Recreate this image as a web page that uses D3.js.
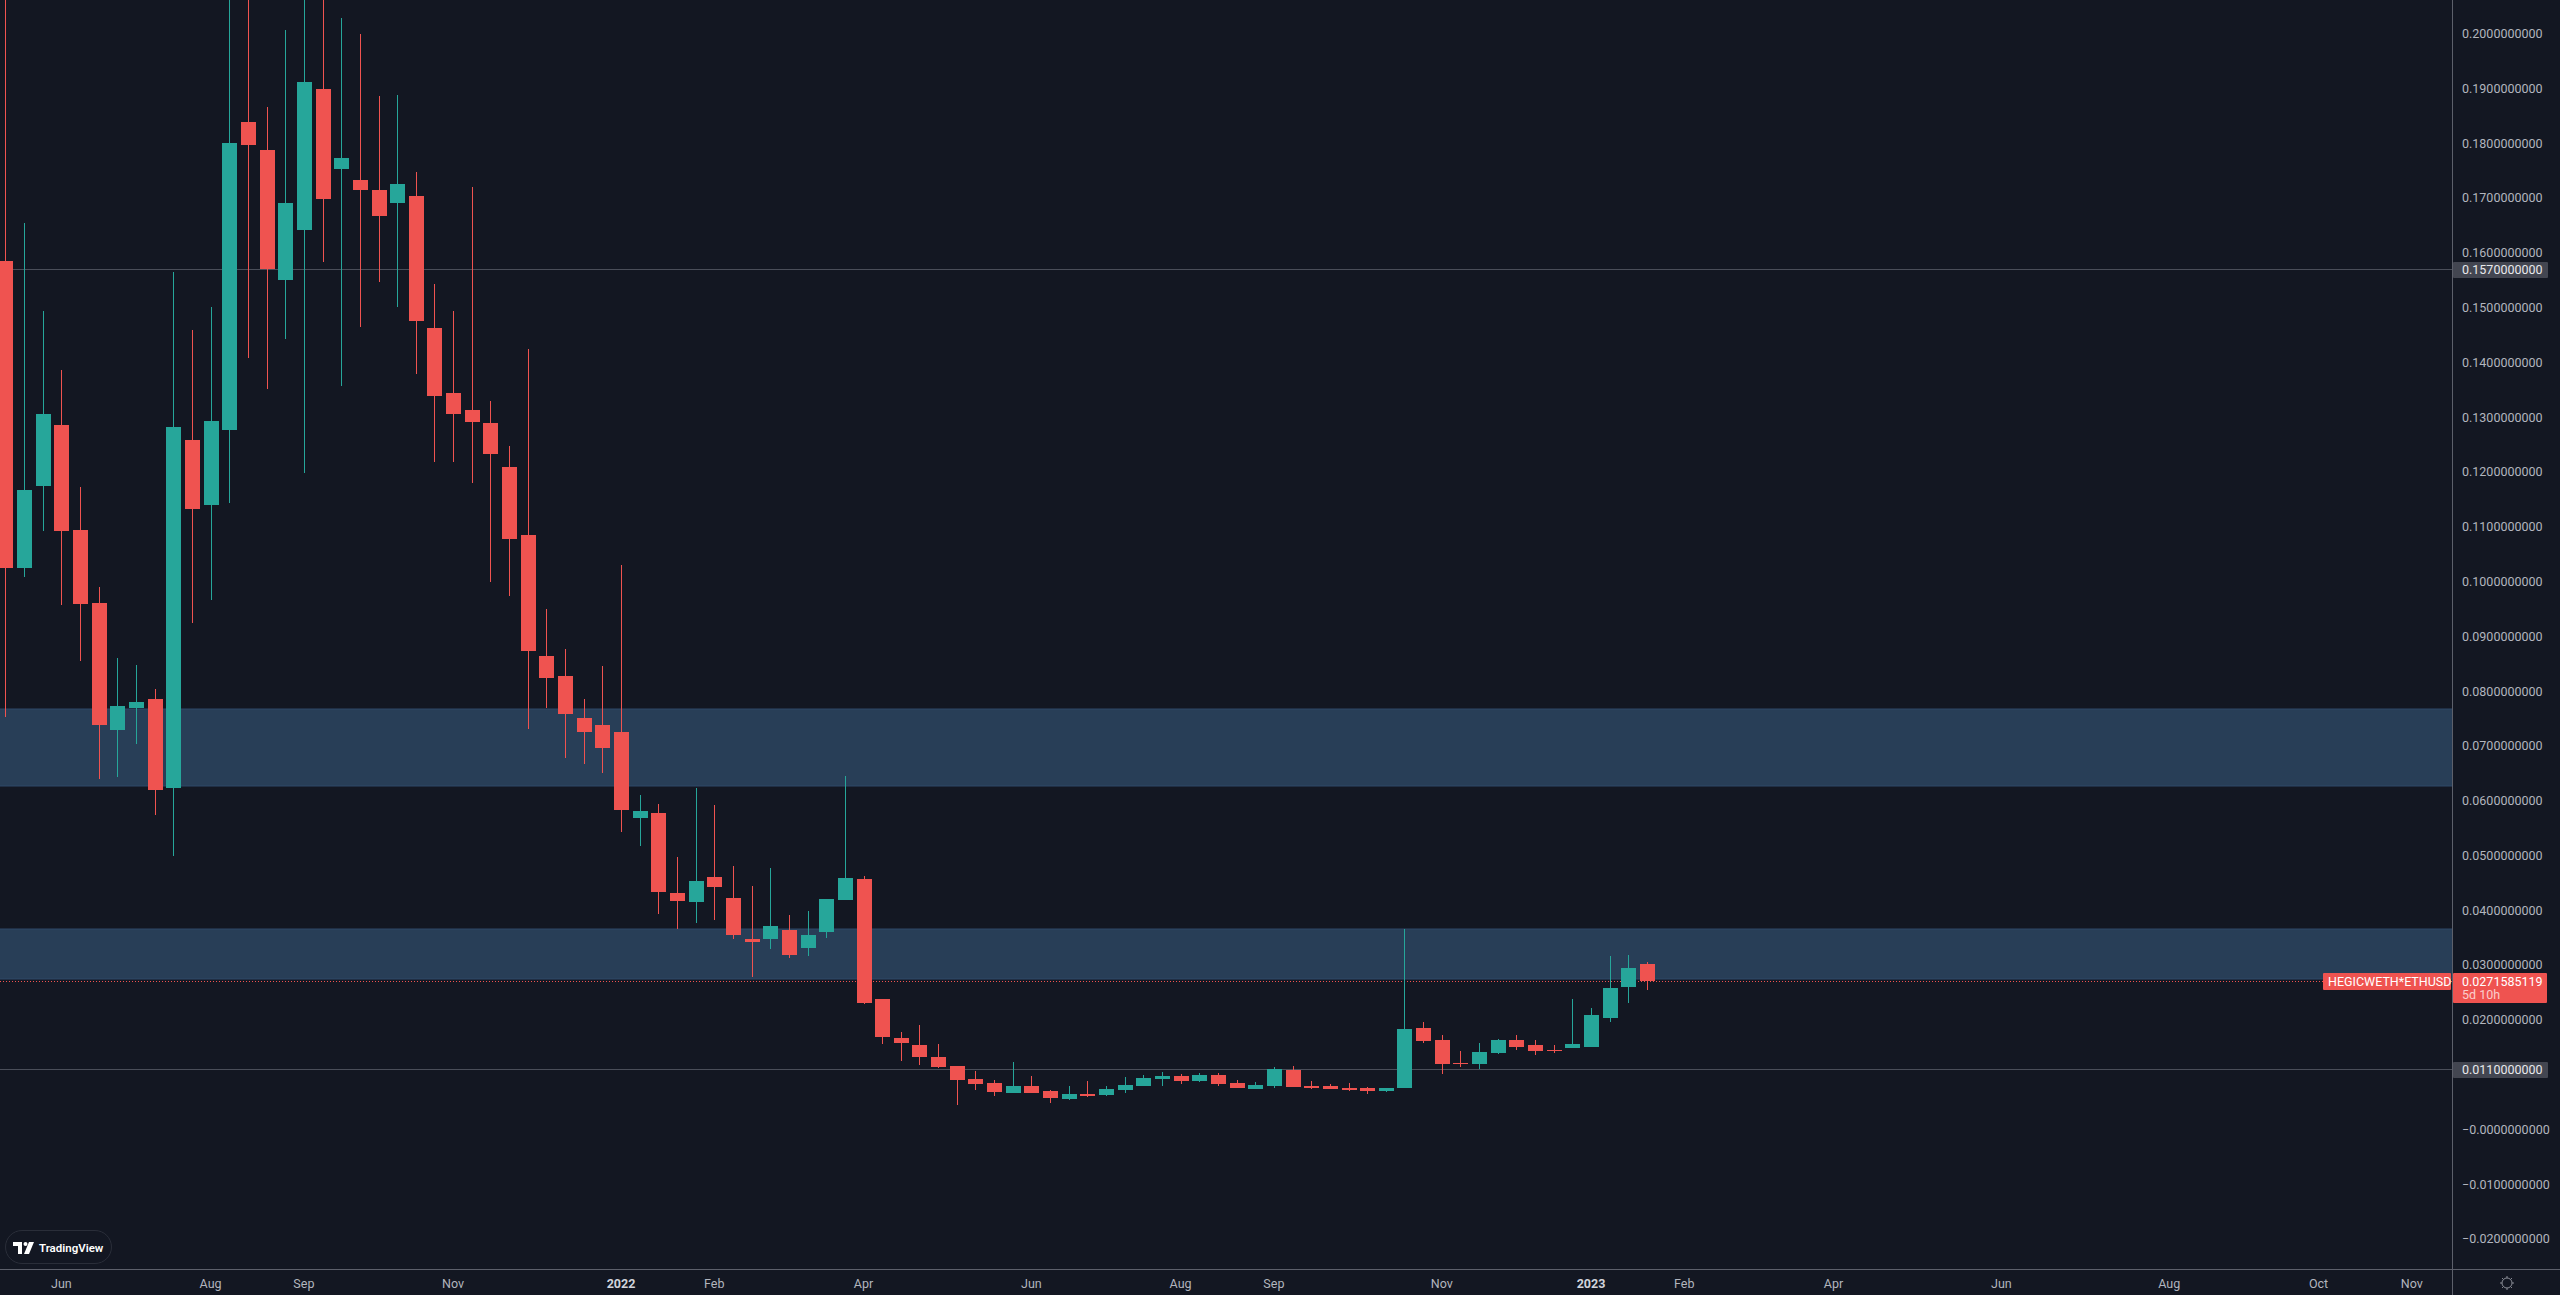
<!DOCTYPE html>
<html><head><meta charset="utf-8">
<script src="https://cdn.jsdelivr.net/npm/d3@7"></script>
<style>html,body{margin:0;padding:0;background:#131722;overflow:hidden}</style>
</head><body>
<svg id="c" width="2560" height="1295"></svg>
<script>
// ---------- DATA ----------
const dates = [
"2021-05-17","2021-05-24","2021-05-31","2021-06-07","2021-06-14","2021-06-21","2021-06-28","2021-07-05","2021-07-12","2021-07-19",
"2021-07-26","2021-08-02","2021-08-09","2021-08-16","2021-08-23","2021-08-30","2021-09-06","2021-09-13","2021-09-20","2021-09-27",
"2021-10-04","2021-10-11","2021-10-18","2021-10-25","2021-11-01","2021-11-08","2021-11-15","2021-11-22","2021-11-29","2021-12-06",
"2021-12-13","2021-12-20","2021-12-27","2022-01-03","2022-01-10","2022-01-17","2022-01-24","2022-01-31","2022-02-07","2022-02-14",
"2022-02-21","2022-02-28","2022-03-07","2022-03-14","2022-03-21","2022-03-28","2022-04-04","2022-04-11","2022-04-18","2022-04-25",
"2022-05-02","2022-05-09","2022-05-16","2022-05-23","2022-05-30","2022-06-06","2022-06-13","2022-06-20","2022-06-27","2022-07-04",
"2022-07-11","2022-07-18","2022-07-25","2022-08-01","2022-08-08","2022-08-15","2022-08-22","2022-08-29","2022-09-05","2022-09-12",
"2022-09-19","2022-09-26","2022-10-03","2022-10-10","2022-10-17","2022-10-24","2022-10-31","2022-11-07","2022-11-14","2022-11-21",
"2022-11-28","2022-12-05","2022-12-12","2022-12-19","2022-12-26","2023-01-02","2023-01-09","2023-01-16","2023-01-23"];

const open = [
0.15850,0.10247,0.11744,0.12857,0.10941,0.09609,0.07291,0.07692,0.07857,0.06232,
0.12583,0.11397,0.12766,0.18387,0.17876,0.15503,0.16416,0.18989,0.17529,0.17328,
0.17146,0.16909,0.17036,0.14627,0.13441,0.13131,0.12893,0.12090,0.10850,0.08641,
0.08276,0.07510,0.07382,0.07254,0.05685,0.05776,0.04316,0.04152,0.04608,0.04225,
0.03477,0.03477,0.03641,0.03312,0.03604,0.04188,0.04572,0.02382,0.01670,0.01542,
0.01323,0.01159,0.00922,0.00849,0.00666,0.00794,0.00703,0.00557,0.00648,0.00630,
0.00721,0.00794,0.00922,0.00976,0.00885,0.00995,0.00849,0.00739,0.00794,0.01086,
0.00794,0.00794,0.00757,0.00757,0.00703,0.00757,0.01852,0.01633,0.01214,0.01195,
0.01396,0.01633,0.01542,0.01451,0.01487,0.01506,0.02035,0.02601,0.03020];

const high = [
0.21500,0.16544,0.14938,0.13861,0.11726,0.09901,0.08605,0.08477,0.08039,0.15649,
0.14591,0.15011,0.21200,0.21000,0.18661,0.20066,0.21500,0.20900,0.20285,0.19993,
0.18861,0.18880,0.17474,0.15430,0.14938,0.17200,0.13295,0.12474,0.14244,0.09499,
0.08769,0.07857,0.08459,0.10302,0.06105,0.05940,0.04973,0.06232,0.05922,0.04809,
0.04444,0.04772,0.03915,0.03988,0.04207,0.06451,0.04626,0.02382,0.01779,0.01907,
0.01560,0.01159,0.01068,0.00903,0.01232,0.00976,0.00721,0.00794,0.00885,0.00794,
0.00958,0.00995,0.01049,0.01013,0.01031,0.01031,0.00903,0.00867,0.01141,0.01159,
0.00885,0.00830,0.00849,0.00776,0.00757,0.03659,0.01962,0.01725,0.01433,0.01579,
0.01652,0.01725,0.01633,0.01542,0.02382,0.02217,0.03166,0.03185,0.03057];

const low = [
0.07528,0.10083,0.10923,0.09572,0.08550,0.06397,0.06433,0.07035,0.05740,0.04991,
0.09244,0.09663,0.11434,0.14080,0.13514,0.14427,0.11981,0.15832,0.13569,0.14645,
0.15467,0.15011,0.13788,0.12182,0.12182,0.11798,0.09992,0.09736,0.07309,0.07692,
0.06780,0.06670,0.06506,0.05429,0.05174,0.03933,0.03659,0.03769,0.03823,0.03477,
0.02783,0.03294,0.03130,0.03166,0.03495,0.04188,0.02290,0.01560,0.01250,0.01177,
0.01122,0.00447,0.00721,0.00611,0.00666,0.00666,0.00484,0.00538,0.00593,0.00611,
0.00666,0.00794,0.00794,0.00830,0.00867,0.00794,0.00757,0.00739,0.00757,0.00776,
0.00739,0.00739,0.00703,0.00648,0.00684,0.00757,0.01579,0.01013,0.01141,0.01104,
0.01378,0.01451,0.01360,0.01396,0.01487,0.01506,0.01962,0.02309,0.02546];

const close = [
0.10247,0.11671,0.13058,0.10923,0.09590,0.07382,0.07729,0.07802,0.06196,0.12821,
0.11324,0.12930,0.18004,0.17967,0.15704,0.16909,0.19117,0.16982,0.17730,0.17146,
0.16671,0.17255,0.14755,0.13386,0.13058,0.12912,0.12328,0.10777,0.08733,0.08240,
0.07583,0.07254,0.06962,0.05831,0.05813,0.04334,0.04170,0.04535,0.04426,0.03550,
0.03422,0.03714,0.03185,0.03550,0.04207,0.04590,0.02309,0.01688,0.01579,0.01323,
0.01141,0.00903,0.00830,0.00684,0.00794,0.00666,0.00575,0.00648,0.00611,0.00739,
0.00812,0.00940,0.00976,0.00885,0.00995,0.00830,0.00757,0.00812,0.01104,0.00776,
0.00757,0.00739,0.00721,0.00703,0.00757,0.01834,0.01615,0.01195,0.01195,0.01414,
0.01633,0.01506,0.01433,0.01433,0.01560,0.02090,0.02582,0.02947,0.0271585119];

const priceTicks = [0.20,0.19,0.18,0.17,0.16,0.15,0.14,0.13,0.12,0.11,0.10,0.09,0.08,0.07,0.06,0.05,0.04,0.03,0.02,0.00,-0.01,-0.02];
const priceTickLabels = ["0.2000000000","0.1900000000","0.1800000000","0.1700000000","0.1600000000","0.1500000000","0.1400000000","0.1300000000","0.1200000000","0.1100000000","0.1000000000","0.0900000000","0.0800000000","0.0700000000","0.0600000000","0.0500000000","0.0400000000","0.0300000000","0.0200000000","\u22120.0000000000","\u22120.0100000000","\u22120.0200000000"];

const timeTickDates = ["2021-06-07","2021-08-02","2021-09-06","2021-11-01","2022-01-03","2022-02-07","2022-04-04","2022-06-06","2022-08-01","2022-09-05","2022-11-07","2023-01-02","2023-02-06","2023-04-03","2023-06-05","2023-08-07","2023-10-02","2023-11-06"];
const timeTickLabels = ["Jun","Aug","Sep","Nov","2022","Feb","Apr","Jun","Aug","Sep","Nov","2023","Feb","Apr","Jun","Aug","Oct","Nov"];

const zoneTops = [0.07674, 0.03659];
const zoneBottoms = [0.06263, 0.02755];
const levelLines = [0.157, 0.011];
const levelLabels = ["0.1570000000", "0.0110000000"];
const lastPrice = 0.0271585119;
const lastPriceLabel = "0.0271585119";
const symbolName = "HEGICWETH*ETHUSD";
const countdown = "5d 10h";

// ---------- LAYOUT ----------
const W = 2560, H = 1295, paneR = 2452, paneB = 1269;
const BG = "#131722", UP = "#26a69a", DOWN = "#ef5350", TXT = "#b2b5be";
const FONT = "Roboto, 'Noto Sans', sans-serif";
const parse = s => { const [a,b,c] = s.split("-").map(Number); return new Date(Date.UTC(a,b-1,c)); };

const x = d3.scaleUtc().domain([parse("2022-01-03"), parse("2023-01-02")]).range([621, 1591]);
const y = d3.scaleLinear().domain([-0.02546, 0.20613]).range([paneB, 0]);

const svg = d3.select("#c");
svg.append("rect").attr("width", W).attr("height", H).attr("fill", BG);

svg.append("defs").append("clipPath").attr("id", "pane")
  .append("rect").attr("x", 0).attr("y", 0).attr("width", paneR).attr("height", paneB);
const pane = svg.append("g").attr("clip-path", "url(#pane)");

// zones
const zoneData = zoneTops.map((t, i) => ({t, b: zoneBottoms[i]}));
pane.selectAll("rect.zone").data(zoneData).join("rect").attr("class", "zone")
  .attr("x", 0).attr("width", paneR)
  .attr("y", d => Math.round(y(d.t))).attr("height", d => Math.round(y(d.b)) - Math.round(y(d.t)))
  .attr("fill", "#283e57");
zoneData.forEach(d => {
  [d.t, d.b].forEach(v => pane.append("rect").attr("x", 0).attr("width", paneR)
    .attr("y", Math.round(y(v)) - 0.5).attr("height", 1).attr("fill", "#2e4968"));
});

// level lines
pane.selectAll("rect.lvl").data(levelLines).join("rect").attr("class", "lvl")
  .attr("x", 0).attr("width", paneR).attr("y", d => Math.round(y(d))).attr("height", 1)
  .attr("fill", "#4a4e59");

// last price dotted line
pane.append("line").attr("x1", 0).attr("x2", paneR)
  .attr("y1", Math.round(y(lastPrice)) + 0.5).attr("y2", Math.round(y(lastPrice)) + 0.5)
  .attr("stroke", DOWN).attr("stroke-width", 1).attr("stroke-dasharray", "1 2");

// candles
const candles = dates.map((d, i) => ({d: parse(d), o: open[i], h: high[i], l: low[i], c: close[i]}));
const g = pane.append("g");
candles.forEach(k => {
  const cx = Math.round(x(k.d));
  const col = k.c >= k.o ? UP : DOWN;
  const wt = Math.round(y(k.h)), wb = Math.round(y(k.l));
  g.append("rect").attr("x", cx).attr("width", 1).attr("y", wt).attr("height", Math.max(1, wb - wt)).attr("fill", col);
  const bt = Math.round(y(Math.max(k.o, k.c))), bb = Math.round(y(Math.min(k.o, k.c)));
  g.append("rect").attr("x", cx - 7).attr("width", 15).attr("y", bt).attr("height", Math.max(1, bb - bt)).attr("fill", col);
});

// axes borders
svg.append("rect").attr("x", paneR).attr("y", 0).attr("width", 1).attr("height", H).attr("fill", "#5d606b");
svg.append("rect").attr("x", 0).attr("y", paneB).attr("width", W).attr("height", 1).attr("fill", "#5d606b");

// price tick labels
svg.append("g").selectAll("text").data(priceTicks).join("text")
  .attr("x", 2462).attr("y", d => y(d)).attr("dy", "0.35em")
  .attr("fill", TXT).attr("font-family", FONT).attr("font-size", 12.5)
  .text((d, i) => priceTickLabels[i]);

// level labels
levelLines.forEach((v, i) => {
  const yy = Math.round(y(v));
  svg.append("rect").attr("x", paneR + 1).attr("y", yy - 7).attr("width", 95).attr("height", 16).attr("rx", 1).attr("fill", "#434651");
  svg.append("text").attr("x", 2462).attr("y", yy + 1).attr("dy", "0.35em").attr("fill", "#e8e9ec")
    .attr("font-family", FONT).attr("font-size", 12.5).text(levelLabels[i]);
});

// last price labels
{
  const yy = Math.round(y(lastPrice));
  svg.append("rect").attr("x", paneR + 1).attr("y", yy - 8).attr("width", 94).attr("height", 30).attr("rx", 1).attr("fill", DOWN);
  svg.append("text").attr("x", 2462).attr("y", yy + 1).attr("dy", "0.35em").attr("fill", "#ffffff")
    .attr("font-family", FONT).attr("font-size", 12.5).text(lastPriceLabel);
  svg.append("text").attr("x", 2462).attr("y", yy + 14).attr("dy", "0.35em").attr("fill", "rgba(255,255,255,0.72)")
    .attr("font-family", FONT).attr("font-size", 12.5).text(countdown);
  svg.append("rect").attr("x", 2323).attr("y", yy - 8).attr("width", 128).attr("height", 17).attr("rx", 1).attr("fill", DOWN);
  svg.append("text").attr("x", 2328).attr("y", yy + 1).attr("dy", "0.35em").attr("fill", "#ffffff")
    .attr("font-family", FONT).attr("font-size", 12.5).text(symbolName);
}

// time axis labels
svg.append("g").selectAll("text").data(timeTickDates).join("text")
  .attr("x", d => x(parse(d))).attr("y", 1284).attr("dy", "0.35em").attr("text-anchor", "middle")
  .attr("font-family", FONT).attr("font-size", 12.5)
  .attr("font-weight", (d, i) => /^\d{4}$/.test(timeTickLabels[i]) ? 700 : 400)
  .attr("fill", (d, i) => /^\d{4}$/.test(timeTickLabels[i]) ? "#d1d4dc" : TXT)
  .text((d, i) => timeTickLabels[i]);

// gear icon
{
  const gx = 2507, gy = 1283;
  const gg = svg.append("g").attr("stroke", "#8a8d96").attr("fill", "none").attr("stroke-width", 1);
  gg.append("circle").attr("cx", gx).attr("cy", gy).attr("r", 5);
  for (let a = 0; a < 8; a++) {
    const t = a * Math.PI / 4;
    gg.append("line").attr("x1", gx + Math.cos(t) * 5).attr("y1", gy + Math.sin(t) * 5)
      .attr("x2", gx + Math.cos(t) * 7).attr("y2", gy + Math.sin(t) * 7);
  }
}

// TradingView logo
{
  const lg = svg.append("g");
  lg.append("rect").attr("x", 5.5).attr("y", 1230.5).attr("width", 106).attr("height", 33).attr("rx", 16.5)
    .attr("fill", "#131722").attr("stroke", "#2a2e39");
  lg.append("path").attr("d", "M13 1242 H22 V1254 H18 V1246 H13 Z").attr("fill", "#fff");
  lg.append("circle").attr("cx", 25.5).attr("cy", 1244).attr("r", 2).attr("fill", "#fff");
  lg.append("path").attr("d", "M29 1242 H34 L29 1254 H24 Z").attr("fill", "#fff");
  lg.append("text").attr("x", 39).attr("y", 1248).attr("dy", "0.35em").attr("fill", "#fff")
    .attr("font-family", FONT).attr("font-size", 11.5).attr("font-weight", 600).text("TradingView");
}
</script>
</body></html>
